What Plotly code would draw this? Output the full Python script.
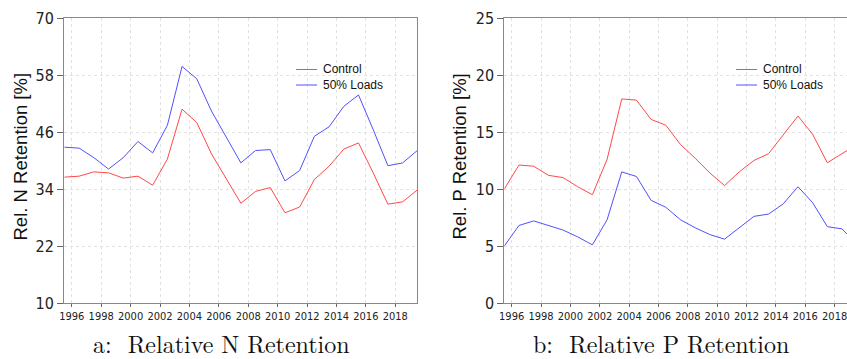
import plotly.graph_objects as go

years = [1995, 1996, 1997, 1998, 1999, 2000, 2001, 2002, 2003, 2004, 2005, 2006,
         2007, 2008, 2009, 2010, 2011, 2012, 2013, 2014, 2015, 2016, 2017, 2018, 2019]

n_control = [36.5, 36.7, 37.6, 37.4, 36.3, 36.7, 34.8, 40.3, 50.8, 48.0, 41.4, 36.2,
             31.0, 33.5, 34.3, 29.0, 30.2, 36.0, 38.8, 42.4, 43.7, 37.4, 30.8, 31.3, 33.8]
n_loads50 = [42.8, 42.6, 40.6, 38.2, 40.6, 44.0, 41.6, 47.4, 59.8, 57.2, 50.4, 45.1,
             39.5, 42.1, 42.3, 35.7, 37.9, 45.1, 47.1, 51.4, 53.8, 46.5, 38.9, 39.5, 42.1]

p_control = [10.0, 12.1, 12.0, 11.2, 11.0, 10.2, 9.5, 12.6, 17.9, 17.8, 16.1, 15.6,
             13.9, 12.7, 11.4, 10.3, 11.5, 12.5, 13.1, 14.8, 16.4, 14.8, 12.3, 13.1, 13.9]
p_loads50 = [5.0, 6.8, 7.2, 6.8, 6.4, 5.8, 5.1, 7.3, 11.5, 11.1, 9.0, 8.4,
             7.3, 6.6, 6.0, 5.6, 6.6, 7.6, 7.8, 8.7, 10.2, 8.8, 6.7, 6.5, 5.2]

series_names = ["Control", "50% Loads"]
series_colors = ["#ff4848", "#5050ff"]
x_ticks = list(range(1996, 2019, 2))
n_ticks = [10, 22, 34, 46, 58, 70]
p_ticks = [0, 5, 10, 15, 20, 25]

xmid = [y + 0.5 for y in years]

fig = go.Figure()
for vals, name, col in zip([n_control, n_loads50], series_names, series_colors):
    fig.add_trace(go.Scatter(x=xmid, y=vals, mode="lines", name=name,
                             line=dict(color=col, width=1), xaxis="x", yaxis="y",
                             showlegend=False))
for vals, name, col in zip([p_control, p_loads50], series_names, series_colors):
    fig.add_trace(go.Scatter(x=xmid, y=vals, mode="lines", name=name,
                             line=dict(color=col, width=1), xaxis="x2", yaxis="y2",
                             showlegend=False))

narrow = "Liberation Sans Narrow, DejaVu Sans Condensed, Liberation Sans, sans-serif"
tickfont_x = dict(family=narrow, size=11, color="#222")
tickfont_y = dict(family=narrow, size=16, color="#222")

xcommon = dict(tickmode="array", tickvals=x_ticks, ticktext=[str(t) for t in x_ticks],
               tickangle=0, automargin=False, ticklabeloverflow="allow",
               ticks="outside", ticklen=3, tickcolor="#666", tickfont=tickfont_x,
               showline=True, linecolor="#888", linewidth=1, mirror=True,
               showgrid=True, gridcolor="#e2e2e2", griddash="dot", gridwidth=1,
               zeroline=False)
ycommon = dict(ticks="outside", ticklen=6, tickcolor="#666", tickfont=tickfont_y,
               automargin=False,
               showline=True, linecolor="#888", linewidth=1, mirror=True,
               showgrid=True, gridcolor="#e2e2e2", griddash="dot", gridwidth=1,
               zeroline=False)

W, H = 847, 359
fig.update_layout(
    width=W, height=H,
    margin=dict(l=0, r=0, t=0, b=0),
    paper_bgcolor="white", plot_bgcolor="white",
    xaxis=dict(domain=[64 / W, 417.3 / W], range=[1995.47, 2019.5], anchor="y", **xcommon),
    yaxis=dict(domain=[1 - 303 / H, 1 - 18 / H], range=[10, 70], tickvals=n_ticks,
               anchor="x", **ycommon),
    xaxis2=dict(domain=[504.3 / W, 1.0], range=[1995.5, 2018.84], anchor="y2", **xcommon),
    yaxis2=dict(domain=[1 - 303 / H, 1 - 18 / H], range=[0, 25], tickvals=p_ticks,
                anchor="x2", **ycommon),
    showlegend=False,
)

# y axis titles
title_font = dict(family="Liberation Sans, Arial, sans-serif", size=18.5, color="#111")
fig.add_annotation(text="Rel. N Retention [%]", xref="paper", yref="paper",
                   x=20 / W, y=1 - 156.5 / H, textangle=-90, showarrow=False,
                   font=title_font, xanchor="center", yanchor="middle")
fig.add_annotation(text="Rel. P Retention [%]", xref="paper", yref="paper",
                   x=459 / W, y=1 - 156.5 / H, textangle=-90, showarrow=False,
                   font=title_font, xanchor="center", yanchor="middle")

# sub captions
cap_font = dict(family="Latin Modern Roman, CMU Serif, Liberation Serif, DejaVu Serif, serif", size=24, color="#111")
fig.add_annotation(text="a:  Relative N Retention", xref="paper", yref="paper",
                   x=221.5 / W, y=1 - 343 / H, showarrow=False, font=cap_font,
                   xanchor="center", yanchor="middle")
fig.add_annotation(text="b:  Relative P Retention", xref="paper", yref="paper",
                   x=661 / W, y=1 - 343 / H, showarrow=False, font=cap_font,
                   xanchor="center", yanchor="middle")

# legends (drawn inside each panel)
leg_font = dict(family="Liberation Sans, Arial, sans-serif", size=12, color="#111")
for (x0, x1, xt) in [(296, 317, 321), (736, 757, 761)]:
    for i, (name, col) in enumerate(zip(series_names, series_colors)):
        yy = 1 - (69.5 + 15.5 * i) / H
        fig.add_shape(type="line", xref="paper", yref="paper", x0=x0 / W, x1=x1 / W,
                      y0=yy, y1=yy, line=dict(color=col, width=1))
        fig.add_annotation(text=name, xref="paper", yref="paper", x=xt / W, y=yy,
                           showarrow=False, font=leg_font, xanchor="left", yanchor="middle")

fig.write_html("out.html")
